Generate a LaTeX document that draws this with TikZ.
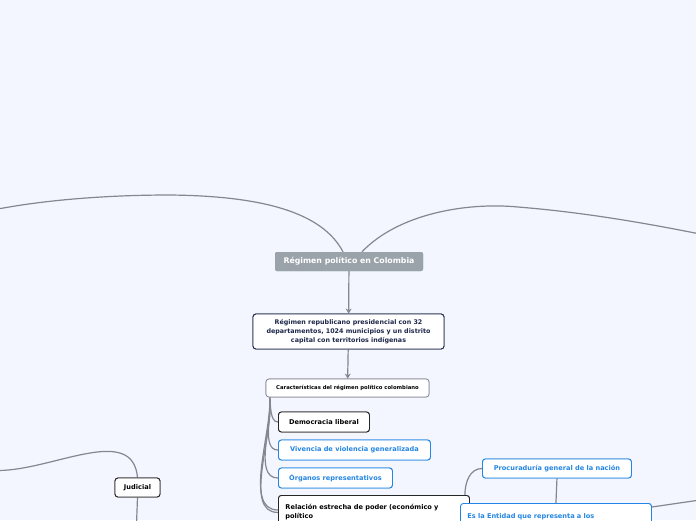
\documentclass[tikz,border=0pt]{standalone}
\usepackage{fontspec}
\setmainfont{DejaVu Sans}
\usetikzlibrary{arrows.meta}
\definecolor{paper}{RGB}{243,246,255}
\definecolor{linkgray}{RGB}{132,134,146}
\definecolor{rootgray}{RGB}{154,162,170}
\definecolor{navy}{RGB}{30,40,74}
\definecolor{mapblue}{RGB}{36,134,228}

\begin{document}
\begin{tikzpicture}[
      x=1pt, y=-1pt,
      >={Stealth[length=5pt, width=6pt]},
      root/.style={fill=rootgray, text=white, rounded corners=2pt, minimum width=148pt, minimum height=19pt, font=\bfseries\fontsize{7.8}{9}\selectfont},
      main/.style={draw=navy, line width=0.9pt, fill=white, rounded corners=3pt, minimum width=191pt, minimum height=35pt, align=center, text=navy, font=\bfseries\fontsize{6.35}{9}\selectfont},
      sub/.style={draw=linkgray, line width=0.7pt, fill=white, rounded corners=3pt, minimum width=163pt, minimum height=18pt, font=\bfseries\fontsize{5.3}{6}\selectfont},
      item/.style={draw=black!85, line width=0.9pt, fill=white, rounded corners=3pt, minimum height=20pt, inner xsep=8pt, font=\bfseries\fontsize{6.6}{9}\selectfont},
      blueitem/.style={item, draw=mapblue, text=mapblue},
      link/.style={draw=linkgray, line width=1.2pt},
      arrow/.style={->, draw=linkgray, line width=1.2pt}
    ]

    \useasboundingbox (0,0) rectangle (696,520);
    \fill[paper] (0,0) rectangle (696,520);
    \clip (0,0) rectangle (696,520);

    \node[root] (regimen) at (349,261.5) {Régimen político en Colombia};
    \node[main] (republica) at (348.5,331.5) {Régimen republicano presidencial con 32\\departamentos, 1024 municipios y un distrito\\capital con territorios indígenas};
    \node[sub] (caract) at (347.5,388) {Características del régimen político colombiano};

    \node[item, anchor=west, minimum width=91pt] (democracia) at (278,422) {Democracia liberal};
    \node[blueitem, anchor=west, minimum width=152pt] (violencia) at (278,450) {Vivencia de violencia generalizada};
    \node[blueitem, anchor=west, minimum width=114pt] (organos) at (278,478) {Órganos representativos};
    \node[item, anchor=north west, minimum width=191pt, minimum height=34pt, text width=177pt, align=left, inner xsep=7pt, inner ysep=5pt] (relacion) at (278,495) {Relación estrecha de poder (económico y\\político};

    \node[blueitem, anchor=west, minimum width=149pt, minimum height=19pt] (procuraduria) at (482,468.5) {Procuraduría general de la nación};
    \node[blueitem, anchor=north west, minimum width=191pt, minimum height=34pt, text width=177pt, align=left, inner xsep=7pt, inner ysep=5pt] (entidad) at (460,503) {Es la Entidad que representa a los\\ciudadanos ante el Estado};

    \node[item, minimum width=45pt, minimum height=19pt, inner xsep=4pt] (judicial) at (137.5,487.5) {Judicial};

    \coordinate (farleft) at (-2,209);
    \coordinate (farright) at (700,234);
    \coordinate (farjudicial) at (-2,470.5);
    \coordinate (belowjudicial) at (136.5,524);
    \coordinate (farentidad) at (700,500);

    % ramas del tema central
    \draw[link] ([xshift=-6pt]regimen.north) .. controls (322,212) and (262,196) .. (170,195) .. controls (100,195) and (40,201) .. (farleft);
    \draw[link] ([xshift=13pt]regimen.north) .. controls (398,214) and (466,202) .. (518,207) .. controls (580,212) and (640,222) .. (farright);

    \draw[arrow] (regimen) -- (republica);
    \draw[arrow] (republica) -- (caract);

    \foreach \child in {democracia, violencia, organos, relacion}
      \draw[link] ([xshift=4pt]caract.south west) to[out=-82, in=180, looseness=0.8] (\child.west);
    \draw[link] ([xshift=4pt]caract.south west) to[out=-86, in=180, looseness=0.8] ([yshift=-15pt]relacion.north west);

    \draw[link] ([xshift=-5pt]relacion.north east) to[out=90, in=180] (procuraduria.west);
    \draw[link] (procuraduria.south) -- (entidad.north);
    \draw[link] ([yshift=-4pt]entidad.north east) -- (farentidad);

    \draw[link] (judicial.north) to[out=95, in=0] (farjudicial);
    \draw[link] (judicial.south) -- (belowjudicial);

    % cajas encima de las ramas
    \node[root] at (regimen) {Régimen político en Colombia};
    \node[main] at (republica) {Régimen republicano presidencial con 32\\departamentos, 1024 municipios y un distrito\\capital con territorios indígenas};
    \node[sub] at (caract) {Características del régimen político colombiano};
    \node[item, anchor=west, minimum width=91pt] at (democracia.west) {Democracia liberal};
    \node[blueitem, anchor=west, minimum width=152pt] at (violencia.west) {Vivencia de violencia generalizada};
    \node[blueitem, anchor=west, minimum width=114pt] at (organos.west) {Órganos representativos};
    \node[item, anchor=north west, minimum width=191pt, minimum height=34pt, text width=177pt, align=left, inner xsep=7pt, inner ysep=5pt] at (relacion.north west) {Relación estrecha de poder (económico y\\político};
    \node[blueitem, anchor=west, minimum width=149pt, minimum height=19pt] at (procuraduria.west) {Procuraduría general de la nación};
    \node[blueitem, anchor=north west, minimum width=191pt, minimum height=34pt, text width=177pt, align=left, inner xsep=7pt, inner ysep=5pt] at (entidad.north west) {Es la Entidad que representa a los\\ciudadanos ante el Estado};
    \node[item, minimum width=45pt, minimum height=19pt, inner xsep=4pt] at (judicial) {Judicial};

  \end{tikzpicture}
\end{document}
